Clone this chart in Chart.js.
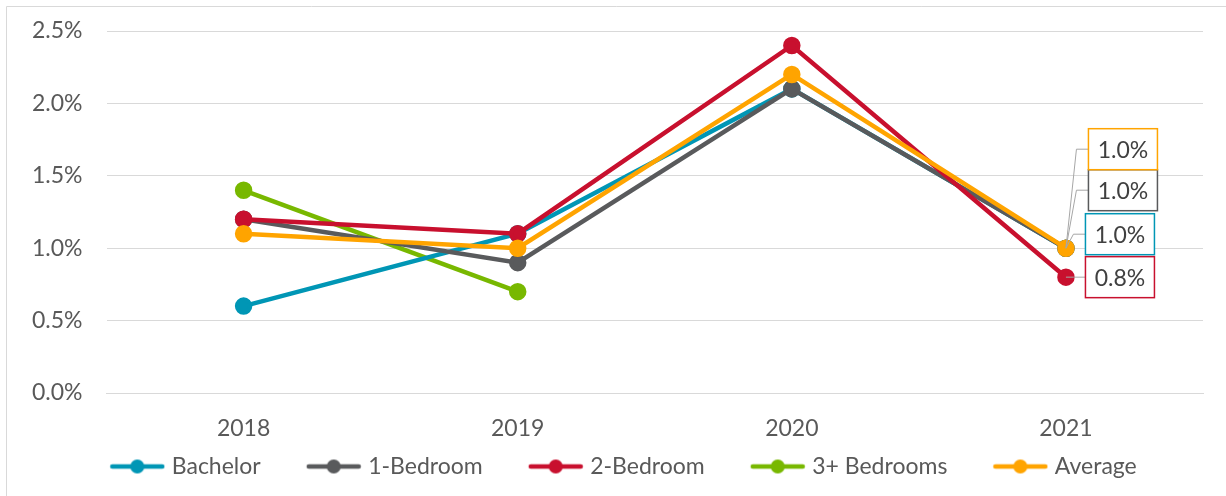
<!DOCTYPE html>
<html>
<head>
<meta charset="utf-8">
<script src="https://cdn.jsdelivr.net/npm/chart.js@4"></script>
<style>
  html, body { margin: 0; padding: 0; background: #fff; }
  #wrap { width: 1226px; height: 496px; position: relative; }
</style>
</head>
<body>
<div id="wrap"><canvas id="chart" width="1226" height="496"></canvas></div>
<script>
let years = ["2018", "2019", "2020", "2021"];
let bachelor = [0.6, 1.1, 2.1, 1.0];
let oneBed = [1.2, 0.9, 2.1, 1.0];
let twoBed = [1.2, 1.1, 2.4, 0.8];
let threeBed = [1.4, 0.7, null, null];
let average = [1.1, 1.0, 2.2, 1.0];
let yTicks = [0, 0.5, 1.0, 1.5, 2.0, 2.5];

let FONT = "Lato, 'Liberation Sans', sans-serif";
let FSIZE = 23;

// offsets of the end-label boxes, relative to the last point
let labelBoxes = {
  0: { dx: 54, dy: -14, color: "#0096B5" },
  1: { dx: 57, dy: -58, color: "#595A5C" },
  2: { dx: 54, dy: 0, color: "#C8102E" },
  4: { dx: 57, dy: -99, color: "#FFA400" }
};

// legend marker: blank lead-in on the left gives the gap between items
let MARK_LEAD = 40;
let MARK_W = 56;

function legendMark(color){
  let c = document.createElement("canvas");
  c.width = MARK_LEAD + MARK_W;
  c.height = 18;
  let g = c.getContext("2d");
  g.strokeStyle = color;
  g.lineWidth = 4.5;
  g.lineCap = "round";
  g.beginPath();
  g.moveTo(MARK_LEAD + 3, 9);
  g.lineTo(MARK_LEAD + MARK_W - 3, 9);
  g.stroke();
  g.fillStyle = color;
  g.beginPath();
  g.arc(MARK_LEAD + MARK_W / 2, 9, 7, 0, Math.PI * 2);
  g.fill();
  return c;
}

// outer frame: only top and left edges show in the cropped original
let frame = {
  id: "frame",
  beforeDraw: function(chart){
    let ctx = chart.ctx;
    ctx.save();
    ctx.strokeStyle = "#d9d9d9";
    ctx.lineWidth = 1;
    ctx.beginPath();
    ctx.moveTo(6.5, 496);
    ctx.lineTo(6.5, 6.5);
    ctx.lineTo(1226, 6.5);
    ctx.stroke();
    ctx.restore();
  }
};

let endLabels = {
  id: "endLabels",
  afterDatasetsDraw: function(chart){
    let ctx = chart.ctx;
    ctx.save();
    ctx.font = FSIZE + "px " + FONT;
    Object.keys(labelBoxes).forEach(function(k){
      let i = Number(k);
      let meta = chart.getDatasetMeta(i);
      let data = chart.data.datasets[i].data;
      let last = data.length - 1;
      let pt = meta.data[last];
      let box = labelBoxes[k];
      let text = data[last].toFixed(1) + "%";
      let w = 69, h = 41;
      let cx = pt.x + box.dx, cy = pt.y + box.dy;
      let left = cx - w / 2;

      ctx.strokeStyle = "#a6a6a6";
      ctx.lineWidth = 1;
      ctx.beginPath();
      ctx.moveTo(pt.x, pt.y);
      ctx.lineTo(Math.max(pt.x, left - 12), cy);
      ctx.lineTo(left, cy);
      ctx.stroke();

      ctx.fillStyle = "#fff";
      ctx.fillRect(left, cy - h / 2, w, h);
      ctx.strokeStyle = box.color;
      ctx.lineWidth = 1.5;
      ctx.strokeRect(left, cy - h / 2, w, h);

      ctx.fillStyle = "#404040";
      ctx.textAlign = "center";
      ctx.textBaseline = "middle";
      ctx.fillText(text, cx, cy + 1);
    });
    ctx.restore();
  }
};

function series(label, data, color, order){
  return {
    label: label,
    data: data,
    borderColor: color,
    backgroundColor: color,
    pointBackgroundColor: color,
    pointBorderColor: color,
    borderWidth: 4.5,
    pointRadius: 6.5,
    pointHoverRadius: 6.5,
    tension: 0,
    spanGaps: false,
    order: order,
    legendMark: legendMark(color)
  };
}

let chart = new Chart(document.getElementById("chart"), {
  type: "line",
  data: {
    labels: years,
    datasets: [
      series("Bachelor", bachelor, "#0096B5", 3),
      series("1-Bedroom", oneBed, "#595A5C", 2),
      series("2-Bedroom", twoBed, "#C8102E", 1),
      series("3+ Bedrooms", threeBed, "#78B800", 4),
      series("Average", average, "#FFA400", 0)
    ]
  },
  options: {
    responsive: false,
    animation: false,
    layout: { padding: { top: 31, left: 8, right: 23, bottom: 8 } },
    plugins: {
      tooltip: { enabled: false },
      legend: {
        position: "bottom",
        labels: {
          color: "#595959",
          font: { family: FONT, size: FSIZE },
          usePointStyle: true,
          pointStyleWidth: MARK_LEAD + MARK_W - 10,
          padding: 10,
          generateLabels: function(chart){
            return chart.data.datasets.map(function(ds, i){
              return {
                text: ds.label,
                pointStyle: ds.legendMark,
                fillStyle: ds.borderColor,
                strokeStyle: ds.borderColor,
                fontColor: "#595959",
                lineWidth: 0,
                datasetIndex: i,
                hidden: false
              };
            });
          }
        }
      }
    },
    scales: {
      x: {
        offset: true,
        grid: { display: false, drawTicks: false },
        border: { color: "#d9d9d9", width: 1 },
        ticks: { color: "#595959", font: { family: FONT, size: FSIZE }, padding: 22 },
        afterFit: function(axis){ axis.height = 52; }
      },
      y: {
        min: 0,
        max: 2.5,
        afterBuildTicks: function(axis){
          axis.ticks = yTicks.map(function(v){ return { value: v }; });
        },
        afterFit: function(axis){
          axis.paddingTop = 0;
          axis.paddingBottom = 0;
        },
        grid: { color: "#d9d9d9", lineWidth: 1, drawTicks: false },
        border: { display: false },
        ticks: {
          color: "#595959",
          font: { family: FONT, size: FSIZE },
          padding: 24,
          callback: function(v){ return Number(v).toFixed(1) + "%"; }
        }
      }
    }
  },
  plugins: [frame, endLabels]
});
</script>
</body>
</html>
